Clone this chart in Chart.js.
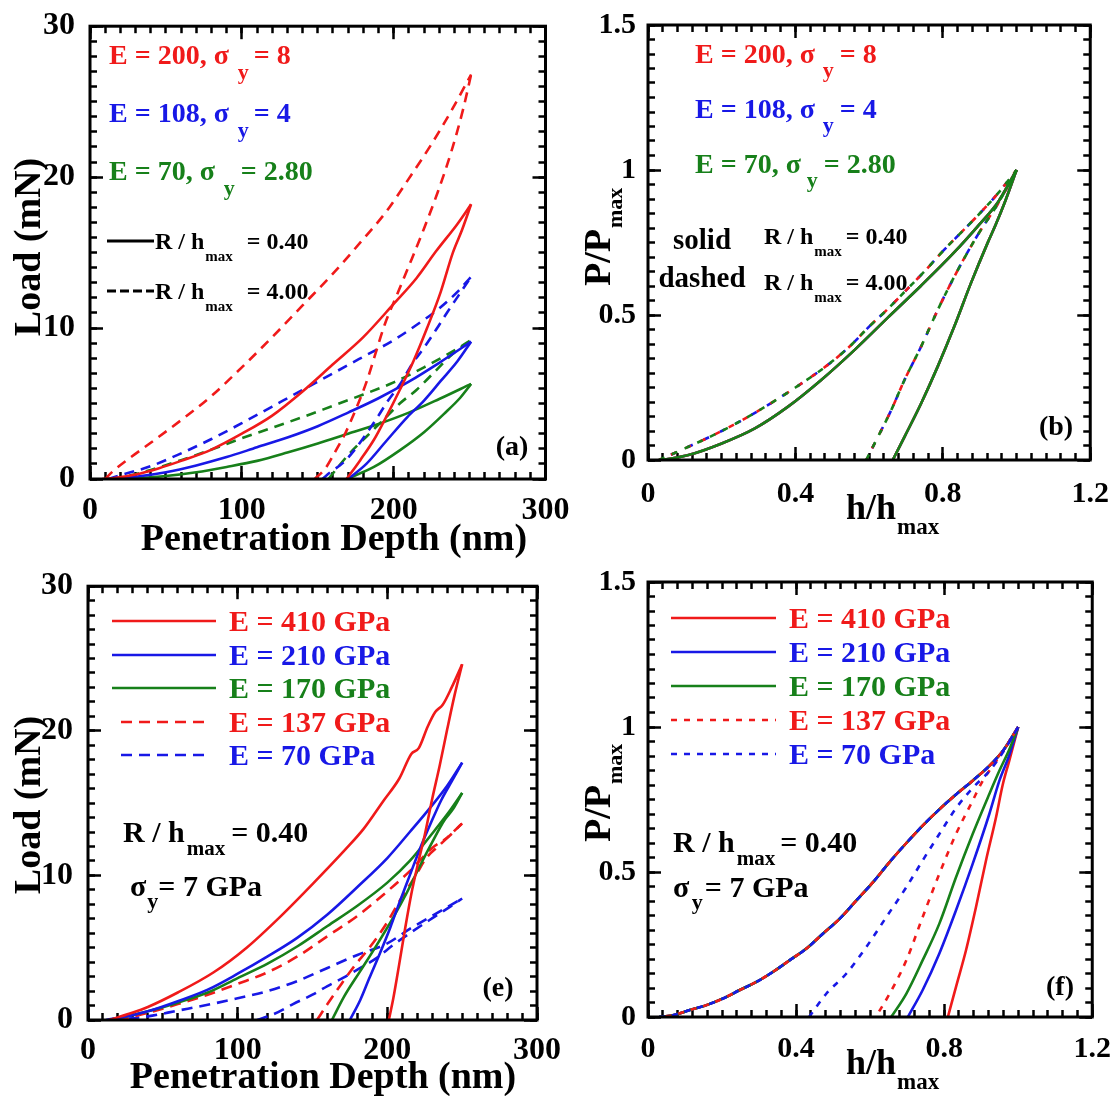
<!DOCTYPE html>
<html>
<head>
<meta charset="utf-8">
<title>Nanoindentation load-depth curves</title>
<script src="https://cdn.jsdelivr.net/npm/chart.js@4.4.1/dist/chart.umd.min.js"></script>
<style>
  html, body { margin: 0; padding: 0; background: #ffffff; }
  body { width: 1117px; height: 1096px; position: relative; overflow: hidden; }
  canvas { position: absolute; }
</style>
</head>
<body>
<canvas id="cA" width="600" height="560" style="left:0;top:0"></canvas>
<canvas id="cE" width="600" height="536" style="left:0;top:560px"></canvas>
<canvas id="cB" width="558" height="560" style="left:559px;top:0"></canvas>
<canvas id="cF" width="558" height="536" style="left:559px;top:560px"></canvas>
<script>
const BLACK = '#000', RED = '#f01a1a', BLUE = '#1818e6', GREEN = '#17801a';
const SERIF = '"Liberation Serif", "Times New Roman", serif';

// ---- (a) load vs depth, R/hmax = 0.40 (solid) and 4.00 (dashed) ----
const aXTicks = [0, 100, 200, 300];
const aYTicks = [0, 10, 20, 30];
const aRedSolidLoad = [[8,0],[15,0.05],[30,0.3],[45,0.7],[60,1.2],[80,1.95],[100,3.0],[120,4.2],[140,5.8],[160,7.6],[180,9.4],[200,11.6],[215,13.3],[228,15.1],[242,16.9],[251,18.2]];
const aRedSolidUnload = [[169,0],[178,1.25],[187,2.6],[195,4.1],[204,5.9],[213,7.8],[222,10.0],[231,12.4],[239,15.0],[245,16.5],[251,18.2]];
const aBlueSolidLoad = [[12,0],[30,0.15],[50,0.45],[70,0.9],[90,1.45],[110,2.1],[130,2.75],[150,3.5],[170,4.4],[190,5.35],[210,6.45],[230,7.7],[251,9.1]];
const aBlueSolidUnload = [[170,0],[182,1.0],[195,2.5],[209,4.1],[220,5.2],[231,6.5],[242,7.8],[251,9.1]];
const aGreenSolidLoad = [[15,0],[30,0.05],[50,0.2],[70,0.45],[90,0.8],[110,1.2],[130,1.75],[150,2.35],[170,3.0],[190,3.65],[210,4.4],[230,5.3],[251,6.3]];
const aGreenSolidUnload = [[169,0],[187,0.8],[204,1.9],[220,3.1],[233,4.3],[244,5.4],[251,6.3]];
const aRedDashLoad = [[10,0],[15,0.5],[25,1.3],[40,2.4],[60,3.9],[80,5.5],[100,7.4],[120,9.4],[140,11.5],[160,13.6],[180,15.9],[195,17.7],[210,19.9],[225,22.2],[238,24.4],[251,26.8]];
const aRedDashUnload = [[148,0],[155,0.7],[162,1.9],[168,3.0],[175,4.6],[182,6.4],[188,8.3],[194,10.2],[203,12.4],[212,14.6],[220,16.6],[229,19.0],[238,21.7],[246,24.6],[251,26.8]];
const aBlueDashLoad = [[12,0],[20,0.25],[40,0.85],[60,1.7],[80,2.65],[100,3.7],[120,4.8],[140,5.9],[160,7.0],[180,8.1],[200,9.2],[215,10.2],[230,11.3],[242,12.4],[251,13.4]];
const aBlueDashUnload = [[153,0],[159,0.5],[167,1.1],[174,1.9],[182,3.0],[190,4.2],[195,5.0],[205,6.4],[212,7.6],[220,8.7],[228,9.9],[235,11.0],[243,12.2],[251,13.4]];
const aGreenDashLoad = [[15,0],[25,0.2],[40,0.6],[60,1.25],[80,1.95],[100,2.7],[120,3.4],[140,4.1],[160,4.85],[180,5.6],[200,6.4],[220,7.4],[238,8.4],[251,9.2]];
const aGreenDashUnload = [[157,0],[161,0.5],[171,1.7],[182,2.8],[193,3.9],[204,5.0],[215,5.9],[226,7.0],[239,8.3],[251,9.2]];

// ---- (b) normalised curves, the three materials overlap ----
const bXTicks = [0, 0.4, 0.8, 1.2];
const bYTicks = [0, 0.5, 1, 1.5];
const bSolidLoad = [[0.04,0],[0.11,0.017],[0.2,0.057],[0.29,0.109],[0.38,0.184],[0.47,0.276],[0.56,0.379],[0.65,0.49],[0.74,0.6],[0.83,0.715],[0.894,0.805],[0.95,0.89],[1,1]];
const bSolidUnload = [[0.664,0],[0.696,0.08],[0.741,0.195],[0.786,0.322],[0.831,0.46],[0.876,0.609],[0.921,0.747],[0.943,0.81],[0.97,0.895],[1,1]];
const bDashLoad = [[0.03,0],[0.1,0.04],[0.2,0.1],[0.3,0.17],[0.4,0.25],[0.49,0.33],[0.55,0.395],[0.6,0.46],[0.65,0.52],[0.7,0.585],[0.75,0.65],[0.8,0.72],[0.85,0.785],[0.9,0.85],[0.95,0.92],[1,1]];
const bDashUnload = [[0.592,0],[0.624,0.08],[0.66,0.172],[0.696,0.276],[0.741,0.391],[0.786,0.517],[0.831,0.632],[0.876,0.736],[0.903,0.793],[0.95,0.885],[1,1]];

// ---- (e) load vs depth for five moduli, R/hmax = 0.40, sigma_y = 7 GPa ----
const e410Load = [[14,0],[28,0.45],[40,0.9],[60,1.9],[84,3.3],[106,5.0],[128,7.1],[150,9.4],[172,11.8],[184,13.2],[197,15.1],[208,16.7],[216,18.4],[221,18.8],[227,20.3],[232,21.3],[237,21.8],[243,23.0],[250,24.6]];
const e410Unload = [[201,0],[204,1.5],[208,3.9],[212,6.4],[216,8.7],[220,10.6],[225,12.8],[230,15.3],[235,17.6],[240,20.1],[245,22.5],[250,24.6]];
const e210Load = [[12,0],[28,0.3],[40,0.6],[60,1.3],[80,2.1],[100,3.2],[120,4.4],[140,5.7],[160,7.3],[180,9.2],[200,11.2],[215,13.0],[228,14.6],[240,16.2],[250,17.8]];
const e210Unload = [[175,0],[182,1.4],[188,2.9],[195,4.6],[202,6.4],[208,8.1],[215,10.0],[222,11.9],[229,13.6],[236,15.2],[243,16.5],[250,17.8]];
const e170Load = [[14,0],[28,0.3],[40,0.6],[60,1.2],[80,1.9],[100,2.9],[120,3.9],[140,5.1],[160,6.5],[180,7.9],[200,9.5],[215,11.0],[230,12.9],[242,14.5],[250,15.7]];
const e170Unload = [[163,0],[171,1.6],[182,3.4],[193,5.2],[204,7.1],[213,8.8],[222,10.7],[230,12.3],[238,13.8],[244,14.6],[250,15.7]];
const e137Load = [[20,0],[40,0.5],[60,1.1],[80,1.75],[100,2.5],[120,3.3],[140,4.4],[160,5.8],[180,7.2],[200,8.9],[215,10.3],[230,11.9],[240,12.6],[250,13.6]];
const e137Unload = [[153,0],[160,1.1],[168,2.3],[177,3.6],[188,5.0],[199,6.6],[208,8.2],[219,10.0],[226,11.2],[235,12.1],[243,12.9],[250,13.6]];
const e70Load = [[15,0],[40,0.25],[60,0.65],[80,1.05],[100,1.5],[120,2.0],[140,2.7],[160,3.6],[180,4.5],[200,5.3],[215,6.3],[230,7.2],[250,8.4]];
const e70Unload = [[113,0],[125,0.45],[137,1.1],[150,1.75],[160,2.35],[172,3.0],[182,3.6],[193,4.3],[204,5.2],[215,6.0],[228,6.9],[240,7.7],[250,8.4]];

// ---- (f) same five curves normalised; loading branches coincide ----
const fLoad = [[0.03,0],[0.07,0.007],[0.113,0.024],[0.158,0.041],[0.203,0.064],[0.248,0.093],[0.293,0.121],[0.338,0.156],[0.383,0.196],[0.428,0.236],[0.473,0.288],[0.518,0.339],[0.563,0.402],[0.608,0.465],[0.653,0.535],[0.698,0.6],[0.742,0.66],[0.787,0.716],[0.832,0.767],[0.877,0.815],[0.922,0.866],[0.96,0.92],[1,1]];
const f410Unload = [[0.81,0],[0.832,0.104],[0.859,0.23],[0.886,0.379],[0.913,0.54],[0.94,0.688],[0.958,0.80],[0.975,0.88],[1,1]];
const f210Unload = [[0.702,0],[0.742,0.093],[0.787,0.219],[0.832,0.368],[0.877,0.528],[0.922,0.70],[0.949,0.814],[0.975,0.9],[1,1]];
const f170Unload = [[0.657,0],[0.698,0.081],[0.742,0.196],[0.787,0.322],[0.832,0.482],[0.877,0.631],[0.922,0.769],[0.949,0.849],[0.975,0.92],[1,1]];
const f137Unload = [[0.615,0],[0.653,0.081],[0.698,0.196],[0.742,0.345],[0.787,0.494],[0.832,0.631],[0.877,0.746],[0.904,0.814],[0.95,0.9],[1,1]];
const f70Unload = [[0.435,0],[0.482,0.081],[0.536,0.15],[0.59,0.242],[0.644,0.345],[0.698,0.448],[0.742,0.54],[0.787,0.631],[0.832,0.72],[0.877,0.79],[0.922,0.848],[0.96,0.915],[1,1]];

function curve(data, color, dash, offset) {
  return {
    data: data.map(([x, y]) => ({ x, y })),
    xAxisID: 'x',
    yAxisID: 'y',
    showLine: true,
    borderColor: color,
    borderWidth: 2.6,
    borderDash: dash || [],
    borderDashOffset: offset || 0,
    pointRadius: 0,
    fill: false,
    cubicInterpolationMode: 'monotone'
  };
}

// text made of pieces, each [text, size, baselineShift, gapBefore]
function drawRich(ctx, it) {
  ctx.save();
  ctx.translate(it.x, it.y);
  if (it.rot) ctx.rotate(it.rot);
  ctx.fillStyle = it.color || BLACK;
  ctx.textBaseline = 'alphabetic';
  ctx.textAlign = 'left';
  const parts = it.parts.map(([t, size, dy = 0, gap = 0]) => {
    ctx.font = `bold ${size}px ${SERIF}`;
    return { t, size, dy, gap, w: ctx.measureText(t).width };
  });
  const total = parts.reduce((s, q) => s + q.gap + q.w, 0);
  let cx = it.align === 'center' ? -total / 2 : 0;
  for (const q of parts) {
    cx += q.gap;
    ctx.font = `bold ${q.size}px ${SERIF}`;
    ctx.fillText(q.t, cx, q.dy);
    cx += q.w;
  }
  ctx.restore();
}

function drawSwatch(ctx, it) {
  const [x1, x2, y] = it.swatch;
  ctx.save();
  ctx.strokeStyle = it.color;
  ctx.lineWidth = it.width || 2.5;
  ctx.setLineDash(it.dash || []);
  ctx.beginPath();
  ctx.moveTo(x1, y);
  ctx.lineTo(x2, y);
  ctx.stroke();
  ctx.restore();
}

// every step between the first and last labelled value
function stepValues(majors, step) {
  const lo = majors[0], hi = majors[majors.length - 1];
  const n = Math.round((hi - lo) / step);
  const out = [];
  for (let i = 0; i <= n; i++) out.push(lo + (hi - lo) * i / n);
  return out;
}

// zero-size axis that only paints short inward tick marks
function tickAxis(axis, position, range, values, len) {
  const flat = axis === 'x';
  return {
    type: 'linear', axis, position, weight: 0,
    min: range[0], max: range[1],
    afterBuildTicks: s => { s.ticks = values.map(v => ({ value: v })); },
    afterFit: s => { if (flat) s.height = 0; else s.width = 0; },
    border: { display: false },
    grid: { display: true, drawOnChartArea: false, drawTicks: true, tickLength: -len, tickWidth: 2.5, tickColor: BLACK },
    ticks: { display: false }
  };
}

// plot box and the annotations
function decorPlugin(notes) {
  return {
    id: 'decor',
    afterDraw(chart) {
      const ctx = chart.ctx;
      const ca = chart.chartArea;
      ctx.save();
      ctx.strokeStyle = BLACK;
      ctx.lineWidth = 3;
      ctx.strokeRect(ca.left, ca.top, ca.right - ca.left, ca.bottom - ca.top);
      ctx.restore();
      for (const it of notes) {
        if (it.swatch) drawSwatch(ctx, it);
        else drawRich(ctx, it);
      }
    }
  };
}

function makePanel(id, cfg) {
  const canvas = document.getElementById(id);
  const W = canvas.width, H = canvas.height;
  const tickFont = { family: SERIF, size: cfg.tickSize, weight: 'bold' };
  const xr = [cfg.xTicks[0], cfg.xTicks[cfg.xTicks.length - 1]];
  const yr = [cfg.yTicks[0], cfg.yTicks[cfg.yTicks.length - 1]];
  const xMinor = stepValues(cfg.xTicks, cfg.xStep);
  const yMinor = stepValues(cfg.yTicks, cfg.yStep);
  return new Chart(canvas, {
    type: 'scatter',
    // dataset 0 is painted last, so layers are listed top first
    data: { datasets: cfg.layers },
    options: {
      responsive: false,
      animation: false,
      events: [],
      layout: { padding: { left: 0, top: cfg.area.top, right: W - cfg.area.right, bottom: 0 } },
      plugins: { legend: { display: false }, tooltip: { enabled: false } },
      scales: {
        x: {
          type: 'linear', axis: 'x', position: 'bottom', weight: 1, min: xr[0], max: xr[1],
          afterBuildTicks: s => { s.ticks = cfg.xTicks.map(v => ({ value: v })); },
          afterFit: s => { s.height = H - cfg.area.bottom; },
          grid: { display: false }, border: { display: false },
          ticks: { font: tickFont, color: BLACK, padding: cfg.xPad, autoSkip: false, maxRotation: 0, callback: v => String(v) }
        },
        y: {
          type: 'linear', axis: 'y', position: 'left', weight: 1, min: yr[0], max: yr[1],
          afterBuildTicks: s => { s.ticks = cfg.yTicks.map(v => ({ value: v })); },
          afterFit: s => { s.width = cfg.area.left; },
          grid: { display: false }, border: { display: false },
          ticks: { font: tickFont, color: BLACK, padding: cfg.yPad, autoSkip: false, callback: v => String(v) }
        },
        xBottomMajor: tickAxis('x', 'bottom', xr, cfg.xTicks, 13),
        xBottomMinor: tickAxis('x', 'bottom', xr, xMinor, 7),
        xTopMajor: tickAxis('x', 'top', xr, cfg.xTicks, 13),
        xTopMinor: tickAxis('x', 'top', xr, xMinor, 7),
        yLeftMajor: tickAxis('y', 'left', yr, cfg.yTicks, 13),
        yLeftMinor: tickAxis('y', 'left', yr, yMinor, 7),
        yRightMajor: tickAxis('y', 'right', yr, cfg.yTicks, 13),
        yRightMinor: tickAxis('y', 'right', yr, yMinor, 7)
      }
    },
    plugins: [decorPlugin(cfg.notes)]
  });
}

const ROT = -Math.PI / 2;
const dashA = [10, 7], dashE = [11, 7], dashF = [6, 7];

makePanel('cA', {
  area: { left: 90, top: 24, right: 545.5, bottom: 479 },
  xTicks: aXTicks, yTicks: aYTicks, xStep: 10, yStep: 1, tickSize: 32, xPad: 5, yPad: 7,
  layers: [
    curve(aRedDashLoad, RED, dashA), curve(aRedDashUnload, RED, dashA),
    curve(aRedSolidLoad, RED), curve(aRedSolidUnload, RED),
    curve(aBlueDashLoad, BLUE, dashA), curve(aBlueDashUnload, BLUE, dashA),
    curve(aBlueSolidLoad, BLUE), curve(aBlueSolidUnload, BLUE),
    curve(aGreenDashLoad, GREEN, dashA), curve(aGreenDashUnload, GREEN, dashA),
    curve(aGreenSolidLoad, GREEN), curve(aGreenSolidUnload, GREEN)
  ],
  notes: [
    { x: 109, y: 64, color: RED, parts: [['E = 200, σ', 28], ['y', 22, 15, 9], ['= 8', 28, 0, 5]] },
    { x: 109, y: 122, color: BLUE, parts: [['E = 108, σ', 28], ['y', 22, 15, 9], ['= 4', 28, 0, 5]] },
    { x: 109, y: 180, color: GREEN, parts: [['E = 70, σ', 28], ['y', 22, 15, 9], ['= 2.80', 28, 0, 6]] },
    { swatch: [107, 154, 241], color: BLACK, width: 3 },
    { x: 155, y: 249, parts: [['R / h', 24], ['max', 15, 12, 1], ['= 0.40', 24, 0, 14]] },
    { swatch: [107, 154, 291], color: BLACK, width: 3, dash: [9, 4] },
    { x: 155, y: 299, parts: [['R / h', 24], ['max', 15, 12, 1], ['= 4.00', 24, 0, 14]] },
    { x: 512, y: 455, align: 'center', parts: [['(a)', 28]] },
    { x: 40, y: 247, rot: ROT, align: 'center', parts: [['Load (mN)', 38]] },
    { x: 334, y: 550, align: 'center', parts: [['Penetration Depth (nm)', 38]] }
  ]
});

makePanel('cB', {
  area: { left: 89, top: 25, right: 534, bottom: 460 },
  xTicks: bXTicks, yTicks: bYTicks, xStep: 0.04, yStep: 0.05, tickSize: 30, xPad: 8, yPad: 4,
  layers: [
    curve(bSolidLoad, GREEN), curve(bSolidUnload, GREEN),
    curve(bDashLoad, GREEN, [6, 8]), curve(bDashUnload, GREEN, [6, 8]),
    curve(bSolidLoad, RED), curve(bSolidUnload, RED),
    curve(bDashLoad, RED, [6, 10], 3), curve(bDashUnload, RED, [6, 10], 3),
    curve(bSolidLoad, BLUE), curve(bSolidUnload, BLUE),
    curve(bDashLoad, BLUE, [6, 12], 5), curve(bDashUnload, BLUE, [6, 12], 5)
  ],
  notes: [
    { x: 136, y: 63, color: RED, parts: [['E = 200, σ', 28], ['y', 22, 14, 8], ['= 8', 28, 0, 6]] },
    { x: 136, y: 118, color: BLUE, parts: [['E = 108, σ', 28], ['y', 22, 14, 8], ['= 4', 28, 0, 6]] },
    { x: 136, y: 173, color: GREEN, parts: [['E = 70, σ', 28], ['y', 22, 14, 6], ['= 2.80', 28, 0, 6]] },
    { x: 143, y: 249, align: 'center', parts: [['solid', 29]] },
    { x: 143, y: 287, align: 'center', parts: [['dashed', 29]] },
    { x: 205, y: 244, parts: [['R / h', 24], ['max', 15, 11.5, 1], ['= 0.40', 24, 0, 4]] },
    { x: 205, y: 290, parts: [['R / h', 24], ['max', 15, 11.5, 1], ['= 4.00', 24, 0, 4]] },
    { x: 497, y: 435, align: 'center', parts: [['(b)', 28]] },
    { x: 51, y: 286, rot: ROT, parts: [['P/P', 38], ['max', 22, 12, 1]] },
    { x: 287, y: 519, parts: [['h/h', 36], ['max', 23, 15, 1]] }
  ]
});

makePanel('cE', {
  area: { left: 88, top: 22, right: 537, bottom: 460 },
  xTicks: aXTicks, yTicks: aYTicks, xStep: 10, yStep: 1, tickSize: 32, xPad: 4, yPad: 7,
  layers: [
    curve(e410Load, RED), curve(e410Unload, RED),
    curve(e210Load, BLUE), curve(e210Unload, BLUE),
    curve(e170Load, GREEN), curve(e170Unload, GREEN),
    curve(e137Load, RED, dashE), curve(e137Unload, RED, dashE),
    curve(e70Load, BLUE, dashE), curve(e70Unload, BLUE, dashE)
  ],
  notes: [
    { swatch: [112, 216, 61], color: RED },
    { swatch: [112, 216, 95], color: BLUE },
    { swatch: [112, 216, 128], color: GREEN },
    { swatch: [121, 207, 162], color: RED, dash: dashE },
    { swatch: [121, 207, 195], color: BLUE, dash: dashE },
    { x: 229, y: 71, color: RED, parts: [['E = 410 GPa', 30]] },
    { x: 229, y: 105, color: BLUE, parts: [['E = 210 GPa', 30]] },
    { x: 229, y: 138, color: GREEN, parts: [['E = 170 GPa', 30]] },
    { x: 229, y: 172, color: RED, parts: [['E = 137 GPa', 30]] },
    { x: 229, y: 205, color: BLUE, parts: [['E = 70 GPa', 30]] },
    { x: 123, y: 282, parts: [['R / h', 30], ['max', 21, 13, 2], ['= 0.40', 30, 0, 6]] },
    { x: 130, y: 336, parts: [['σ', 30], ['y', 22, 12, 1], ['= 7 GPa', 30, 0, 0]] },
    { x: 498, y: 436, align: 'center', parts: [['(e)', 28]] },
    { x: 40, y: 245, rot: ROT, align: 'center', parts: [['Load (mN)', 38]] },
    { x: 323, y: 528, align: 'center', parts: [['Penetration Depth (nm)', 38]] }
  ]
});

makePanel('cF', {
  area: { left: 89, top: 20, right: 534, bottom: 457 },
  xTicks: bXTicks, yTicks: bYTicks, xStep: 0.04, yStep: 0.05, tickSize: 30, xPad: 6, yPad: 4,
  layers: [
    curve(fLoad, BLUE, dashF), curve(f70Unload, BLUE, dashF),
    curve(fLoad, RED, dashF, 6.5), curve(f137Unload, RED, dashF, 6.5),
    curve(fLoad, GREEN), curve(f170Unload, GREEN),
    curve(fLoad, BLUE), curve(f210Unload, BLUE),
    curve(fLoad, RED), curve(f410Unload, RED)
  ],
  notes: [
    { swatch: [112, 217, 58], color: RED },
    { swatch: [112, 217, 92], color: BLUE },
    { swatch: [112, 217, 126], color: GREEN },
    { swatch: [112, 217, 160], color: RED, dash: dashF },
    { swatch: [112, 217, 194], color: BLUE, dash: dashF },
    { x: 230, y: 68, color: RED, parts: [['E = 410 GPa', 30]] },
    { x: 230, y: 102, color: BLUE, parts: [['E = 210 GPa', 30]] },
    { x: 230, y: 136, color: GREEN, parts: [['E = 170 GPa', 30]] },
    { x: 230, y: 170, color: RED, parts: [['E = 137 GPa', 30]] },
    { x: 230, y: 204, color: BLUE, parts: [['E = 70 GPa', 30]] },
    { x: 114, y: 292, parts: [['R / h', 30], ['max', 21, 13, 2], ['= 0.40', 30, 0, 5]] },
    { x: 114, y: 337, parts: [['σ', 30], ['y', 22, 12, 2.5], ['= 7 GPa', 30, 0, 2]] },
    { x: 501, y: 435, align: 'center', parts: [['(f)', 28]] },
    { x: 51, y: 282, rot: ROT, parts: [['P/P', 38], ['max', 22, 12, 1]] },
    { x: 287, y: 514, parts: [['h/h', 36], ['max', 23, 15, 1]] }
  ]
});
</script>
</body>
</html>
